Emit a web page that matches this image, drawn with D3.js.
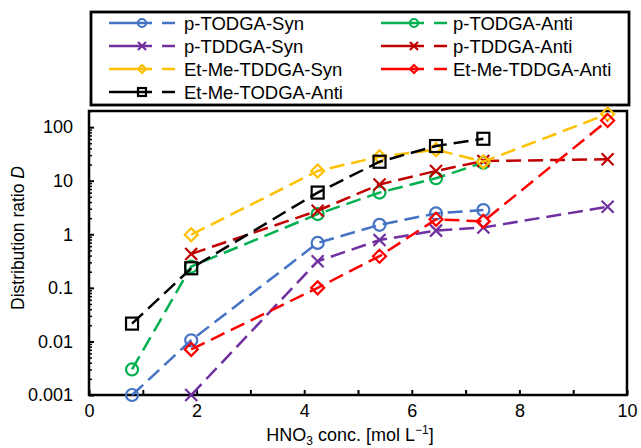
<!DOCTYPE html>
<html>
<head>
<meta charset="utf-8">
<script src="https://cdn.jsdelivr.net/npm/d3@7"></script>
<style>
  html, body { margin: 0; padding: 0; background: #fff; }
  svg { display: block; font-family: "Liberation Sans", Arial, sans-serif; }
</style>
</head>
<body>
<svg id="chart" width="641" height="448"></svg>
<script>
// ---- data ----
const seriesNames = ["p-TODGA-Syn", "p-TODGA-Anti", "p-TDDGA-Syn", "p-TDDGA-Anti",
                     "Et-Me-TDDGA-Syn", "Et-Me-TDDGA-Anti", "Et-Me-TODGA-Anti"];
const xA = [0.8, 1.9, 4.25, 5.4, 6.45, 7.33];        // HNO3 conc. for series starting at 0.8
const xB = [1.9, 4.25, 5.4, 6.45, 7.33, 9.64];       // HNO3 conc. for series starting at 1.9
const pTODGASyn     = [0.001, 0.0105, 0.69, 1.5, 2.45, 2.83];
const pTODGAAnti    = [0.003, 0.25, 2.38, 6.0, 11.1, 21.7];
const pTDDGASyn     = [0.001, 0.314, 0.78, 1.17, 1.34, 3.26];
const pTDDGAAnti    = [0.43, 2.75, 8.5, 15.2, 23.3, 25.1];
const etMeTDDGASyn  = [0.98, 15.2, 28, 38, 22.6, 176];
const etMeTDDGAAnti = [0.0071, 0.1, 0.39, 1.9, 1.74, 133];
const etMeTODGAAnti = [0.0215, 0.232, 6.0, 22.6, 44.4, 60.6];
const xTicks = [0, 1, 2, 3, 4, 5, 6, 7, 8, 9, 10];
const yMajor = [0.001, 0.01, 0.1, 1, 10, 100];
const yTickLabels = ["0.001", "0.01", "0.1", "1", "10", "100"];

// ---- styles ----
const styles = [
  {color: "#4472C4", marker: "circle"},
  {color: "#00B050", marker: "circle"},
  {color: "#7030A0", marker: "x"},
  {color: "#C00000", marker: "x"},
  {color: "#FFC000", marker: "diamond"},
  {color: "#FF0000", marker: "diamond"},
  {color: "#000000", marker: "square"}
];
const seriesData = [
  [xA, pTODGASyn], [xA, pTODGAAnti], [xB, pTDDGASyn], [xB, pTDDGAAnti],
  [xB, etMeTDDGASyn], [xB, etMeTDDGAAnti], [xA, etMeTODGAAnti]
].map(([xs, ys], i) => ({
  name: seriesNames[i], ...styles[i],
  points: xs.map((x, j) => ({x, y: ys[j]}))
}));

const svg = d3.select("#chart");
const L = 89, R = 627, T = 111, B = 395;
const x = d3.scaleLinear().domain([0, 10]).range([L, R]);
const y = d3.scaleLog().domain([0.001, 200]).range([B, T]);

// minor ticks
const yMinor = [];
for (let e = -3; e <= 2; e++) for (let k = 2; k <= 9; k++) {
  const v = k * Math.pow(10, e);
  if (v <= 200) yMinor.push(+v.toPrecision(3));
}

// axes
const fontTick = "18px";
svg.append("g").attr("transform", `translate(${L},0)`)
  .call(d3.axisLeft(y).tickValues(yMinor).tickSize(-3).tickFormat(""))
  .call(g => g.select(".domain").remove())
  .call(g => g.selectAll("line").attr("stroke", "#000").attr("stroke-width", 1.5));
svg.append("g").attr("transform", `translate(${L},0)`)
  .call(d3.axisLeft(y).tickValues(yMajor).tickSize(-5).tickPadding(16)
        .tickFormat((d, i) => yTickLabels[i]))
  .call(g => g.select(".domain").remove())
  .call(g => g.selectAll("line").attr("stroke", "#000").attr("stroke-width", 2))
  .call(g => g.selectAll("text").attr("font-size", fontTick).attr("fill", "#000")
        .attr("font-family", "Liberation Sans, Arial, sans-serif"));
svg.append("g").attr("transform", `translate(0,${B})`)
  .call(d3.axisBottom(x).tickValues(xTicks).tickSize(-5).tickPadding(9)
        .tickFormat(d => d % 2 === 0 ? d : ""))
  .call(g => g.select(".domain").remove())
  .call(g => g.selectAll("line").attr("stroke", "#000").attr("stroke-width", 2))
  .call(g => g.selectAll("text").attr("font-size", fontTick).attr("fill", "#000")
        .attr("font-family", "Liberation Sans, Arial, sans-serif"));

// plot frame
svg.append("rect").attr("x", L).attr("y", T).attr("width", R - L).attr("height", B - T)
  .attr("fill", "none").attr("stroke", "#000").attr("stroke-width", 2.5);

// marker drawing
function drawMarker(g, type, color, s, sw) {
  if (type === "circle") {
    g.append("circle").attr("r", s).attr("fill", "none").attr("stroke", color).attr("stroke-width", sw);
  } else if (type === "square") {
    g.append("rect").attr("x", -s).attr("y", -s).attr("width", 2 * s).attr("height", 2 * s)
      .attr("fill", "none").attr("stroke", color).attr("stroke-width", sw);
  } else if (type === "diamond") {
    g.append("path").attr("d", `M0,${-s}L${s},0L0,${s}L${-s},0Z`)
      .attr("fill", "none").attr("stroke", color).attr("stroke-width", sw);
  } else if (type === "x") {
    g.append("path").attr("d", `M${-s},${-s}L${s},${s}M${-s},${s}L${s},${-s}`)
      .attr("fill", "none").attr("stroke", color).attr("stroke-width", sw);
  }
}
const markerSize = {circle: 6, square: 6, diamond: 6.5, x: 6};

// series
const line = d3.line().x(d => x(d.x)).y(d => y(d.y));
seriesData.forEach(s => {
  const g = svg.append("g");
  g.append("path").datum(s.points).attr("d", line)
    .attr("fill", "none").attr("stroke", s.color).attr("stroke-width", 2.5)
    .attr("stroke-dasharray", "15,7");
  s.points.forEach(p => {
    const m = g.append("g").attr("transform", `translate(${x(p.x)},${y(p.y)})`);
    drawMarker(m, s.marker, s.color, markerSize[s.marker], 2.2);
  });
});

// legend
svg.append("rect").attr("x", 91).attr("y", 12).attr("width", 538).attr("height", 93)
  .attr("fill", "#fff").attr("stroke", "#000").attr("stroke-width", 2.8);
seriesData.forEach((s, i) => {
  const col = i % 2, row = Math.floor(i / 2);
  const x0 = col === 0 ? 109 : 381;
  const tx = col === 0 ? 184 : 453;
  const yy = 23 + row * 23;
  const g = svg.append("g");
  g.append("line").attr("x1", x0).attr("x2", x0 + 43).attr("y1", yy).attr("y2", yy)
    .attr("stroke", s.color).attr("stroke-width", 2.5);
  g.append("line").attr("x1", x0 + 53).attr("x2", x0 + 66).attr("y1", yy).attr("y2", yy)
    .attr("stroke", s.color).attr("stroke-width", 2.5);
  const m = g.append("g").attr("transform", `translate(${x0 + 33},${yy})`);
  drawMarker(m, s.marker, s.color, 4, 2.2);
  g.append("text").attr("x", tx).attr("y", yy + 6.5).attr("font-size", "18.5px")
    .attr("fill", "#000").text(s.name);
});

// axis titles
const xt = svg.append("text").attr("x", 350).attr("y", 441).attr("text-anchor", "middle")
  .attr("font-size", "18px").attr("fill", "#000");
xt.append("tspan").text("HNO");
xt.append("tspan").text("3").attr("font-size", "12px").attr("dy", 4);
xt.append("tspan").text(" conc. [mol L").attr("dy", -4);
xt.append("tspan").text("−1").attr("font-size", "12px").attr("dy", -7);
xt.append("tspan").text("]").attr("dy", 7);

const yt = svg.append("text").attr("transform", "translate(24,238) rotate(-90)")
  .attr("text-anchor", "middle").attr("font-size", "17.5px").attr("fill", "#000");
yt.append("tspan").text("Distribution ratio ");
yt.append("tspan").text("D").attr("font-style", "italic");
</script>
</body>
</html>
